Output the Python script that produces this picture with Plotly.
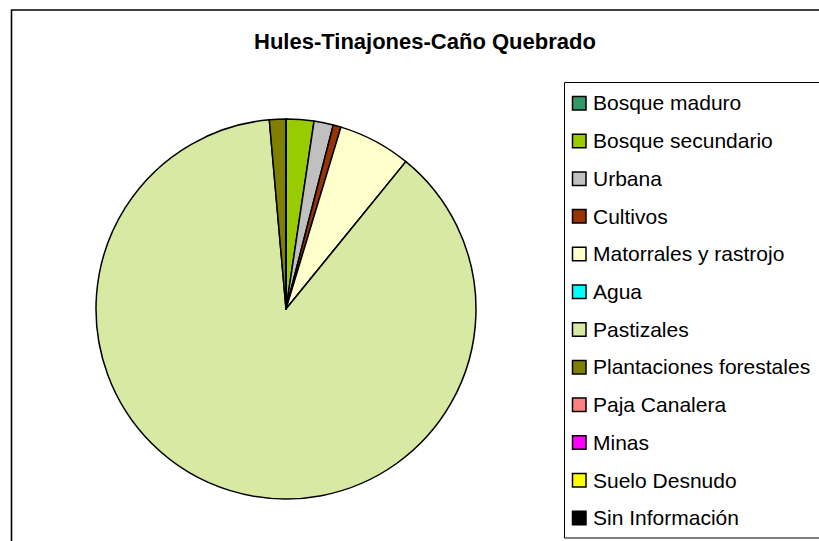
import plotly.graph_objects as go

W, H = 819, 541

title_text = "Hules-Tinajones-Caño Quebrado"

categories = [
    "Bosque maduro", "Bosque secundario", "Urbana", "Cultivos",
    "Matorrales y rastrojo", "Agua", "Pastizales", "Plantaciones forestales",
    "Paja Canalera", "Minas", "Suelo Desnudo", "Sin Información",
]
# percent share of area
values = [0.0, 2.36, 1.64, 0.67, 6.2, 0.0, 87.73, 1.4, 0.0, 0.0, 0.0, 0.0]

colors = [
    "#339966", "#99cc00", "#c0c0c0", "#993300",
    "#ffffcc", "#00ffff", "#d7e9a2", "#808000",
    "#ff8080", "#ff00ff", "#ffff00", "#000000",
]

FONT = "Arial, 'Liberation Sans', sans-serif"


def px_x(x):
    return x / W


def px_y(y):
    return 1 - y / H


cx, cy, r = 286, 309, 190

fig = go.Figure(
    go.Pie(
        labels=categories,
        values=values,
        sort=False,
        direction="clockwise",
        rotation=0,
        textinfo="none",
        hoverinfo="label+percent",
        showlegend=False,
        marker=dict(colors=colors, line=dict(color="#000000", width=1.5)),
        domain=dict(x=[px_x(cx - r), px_x(cx + r)], y=[px_y(cy + r), px_y(cy - r)]),
    )
)

shapes = []
annotations = []

# outer chart frame
shapes.append(dict(type="rect", xref="paper", yref="paper",
                   x0=px_x(11.5), x1=px_x(W + 20), y0=px_y(H + 20), y1=px_y(10),
                   line=dict(color="#000000", width=1.6), fillcolor="rgba(0,0,0,0)"))
# legend frame
shapes.append(dict(type="rect", xref="paper", yref="paper",
                   x0=px_x(564.5), x1=px_x(W + 20), y0=px_y(538), y1=px_y(82.5),
                   line=dict(color="#000000", width=1), fillcolor="rgba(0,0,0,0)"))

y0_item, step = 103, 37.7
for i, (lab, col) in enumerate(zip(categories, colors)):
    yc = y0_item + i * step
    shapes.append(dict(type="rect", xref="paper", yref="paper",
                       x0=px_x(572.5), x1=px_x(586), y0=px_y(yc + 7), y1=px_y(yc - 6.5),
                       line=dict(color="#000000", width=1.5), fillcolor=col))
    annotations.append(dict(text=lab, xref="paper", yref="paper",
                            x=px_x(591), y=px_y(yc), xanchor="left", yanchor="middle",
                            showarrow=False, font=dict(family=FONT, size=21, color="#000000")))

annotations.append(dict(text="<b>" + title_text + "</b>", xref="paper", yref="paper",
                        x=px_x(425), y=px_y(42), xanchor="center", yanchor="middle",
                        showarrow=False, font=dict(family=FONT, size=22, color="#000000")))

fig.update_layout(
    width=W, height=H,
    margin=dict(l=0, r=0, t=0, b=0),
    paper_bgcolor="#ffffff",
    plot_bgcolor="#ffffff",
    shapes=shapes,
    annotations=annotations,
    showlegend=False,
)

fig.write_html("out.html", config={"displayModeBar": False},
               post_script="document.body.style.margin='0';")
